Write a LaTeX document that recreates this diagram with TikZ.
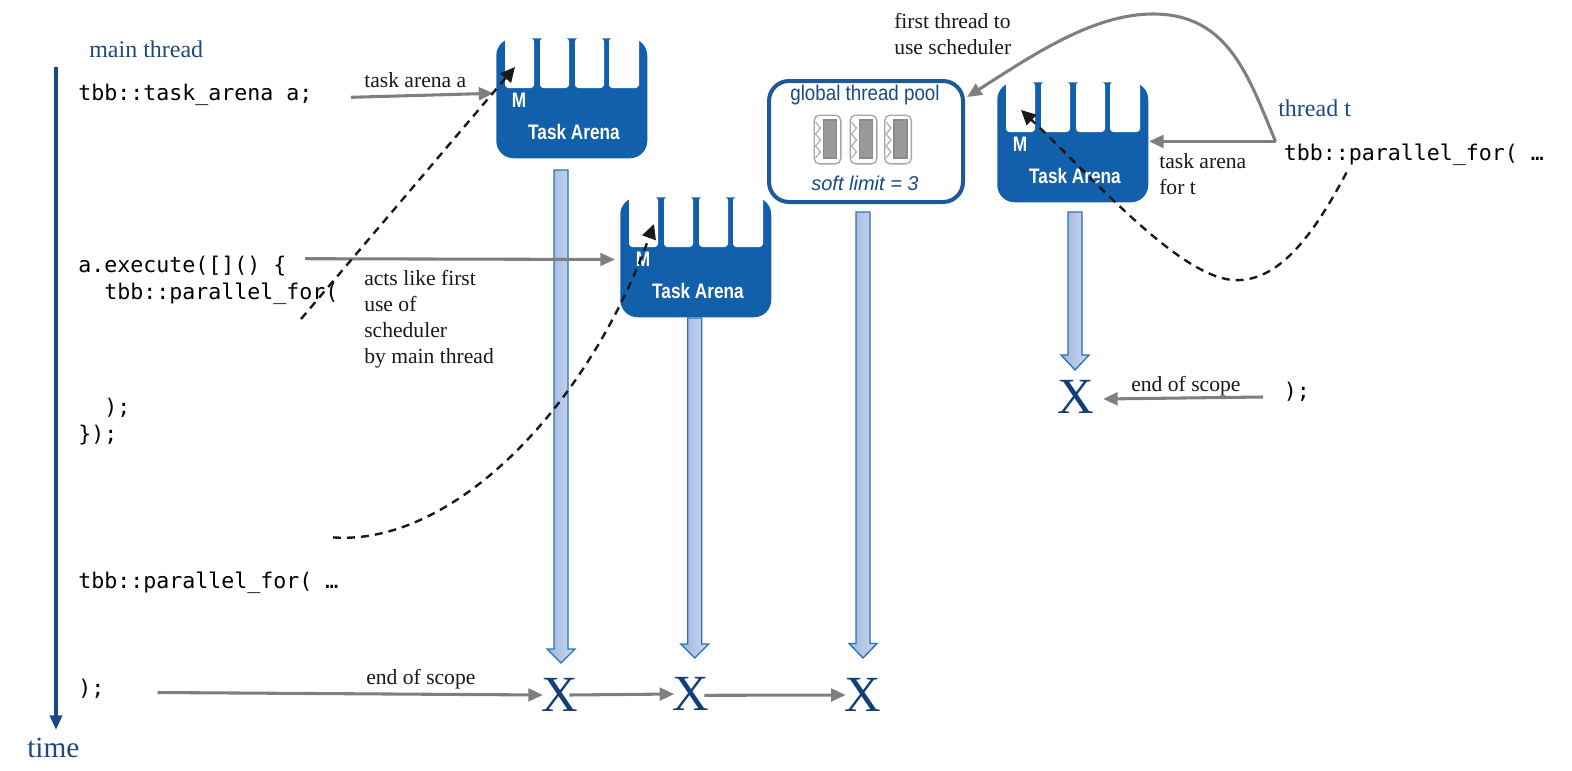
\documentclass[tikz,border=0pt]{standalone}
\usepackage{fontspec}
\usetikzlibrary{arrows.meta}
\setmainfont{Liberation Serif}
\newfontfamily\codefont{DejaVu Sans Mono}
\newfontfamily\arenafont[FakeStretch=0.82]{Liberation Sans}
\newfontfamily\poolfont[FakeStretch=0.88]{Liberation Sans}
\newfontfamily\softfont{Liberation Sans}
\definecolor{arenablue}{HTML}{1260AB}
\definecolor{poolblue}{HTML}{1D5A9C}
\definecolor{navy}{HTML}{1C4A80}
\definecolor{xblue}{HTML}{133F78}
\definecolor{arrowgray}{HTML}{7F7F7F}
\definecolor{iconline}{HTML}{A6A6A6}
\definecolor{icongray}{HTML}{999999}
\definecolor{blockline}{HTML}{2A70B8}
\definecolor{blockdark}{HTML}{9DB5DE}
\definecolor{blocklight}{HTML}{CDDAEF}
\tikzset{
  code/.style={font=\codefont\fontsize{16.2}{18}\selectfont,anchor=base west,inner sep=0pt},
  label/.style={font=\fontsize{16.2}{18}\selectfont,anchor=base west,inner sep=0pt,text=black!90},
  endx/.style={font=\fontsize{38}{40}\selectfont,text=xblue,inner sep=0pt},
  grayarrow/.style={draw=arrowgray,line width=2.3pt,-{Triangle[length=11pt,width=9.5pt]}},
  dasharrow/.style={draw=black!90,line width=1.8pt,dash pattern=on 6pt off 4.5pt,-{Triangle[length=11pt,width=10.5pt]}},
  arenabox/.style={fill=arenablue,rounded corners=13pt,minimum width=113.25pt,minimum height=90pt,anchor=north west,inner sep=0pt},
  arenaM/.style={font=\arenafont\bfseries\fontsize{15.75}{18}\selectfont,text=white,inner sep=0pt},
  threadicon/.style={draw=iconline,line width=1pt,fill=white,rounded corners=4pt,minimum width=20pt,minimum height=36.5pt,inner sep=0pt},
  block/.style={draw=blockline,line width=1pt,left color=blockdark,right color=blocklight},
}
\newcommand{\arena}[3]{% name, left, top
  \node[arenabox] (#1) at (#2,#3) {};
  \begin{scope}[shift={(#2,#3)}]
    \foreach \sx/\ex in {9/38,44/73,79/108,113/143}{
      \fill[white,rounded corners=2.5pt] (\sx,0) rectangle (\ex,50);
    }
    \node[arenaM] (#1M) at (23,62) {M};
    \node[arenaM] (#1T) at (78,94) {Task Arena};
  \end{scope}
}
\newcommand{\blockarrow}[5]{% center x, half shaft, top, head start, tip
  \path[block] (#1-#2,#3) -- (#1+#2,#3) -- (#1+#2,#4) -- (#1+#2+7,#4) -- (#1,#5) -- (#1-#2-7,#4) -- (#1-#2,#4) -- cycle;
}
\newcommand{\threadicon}[2]{% name, center x
  \node[threadicon] (#1) at (#2,139.5) {};
  \draw[icongray!90!black,line width=.9pt,fill=icongray] (#2-4,120) rectangle (#2+9,158);
  \draw[iconline,line width=.8pt] (#2-12,122) -- (#2-7,128) -- (#2-12,134) -- (#2-7,140) -- (#2-12,146) -- (#2-7,152) -- (#2-12,158);
}
\begin{document}
\begin{tikzpicture}[x=0.75pt,y=-0.75pt]
\useasboundingbox (0,0) rectangle (1572,771);

% time line
\coordinate (timeTop) at (56,67);
\coordinate (timeEnd) at (56,730);
\draw[navy,line width=3pt,-{Triangle[length=11pt,width=9pt]}] (timeTop) -- (timeEnd);
\node[font=\fontsize{22}{24}\selectfont,text=navy,inner sep=0pt,anchor=base west] (timeL) at (27,757) {time};
\node[label,text=navy,font=\fontsize{18}{20}\selectfont] (mainL) at (89,57) {main thread};

% arenas
\arena{arenaA}{496}{38}
\arena{arenaB}{620}{197}
\arena{arenaC}{997}{82}

% pool
\node[draw=poolblue,line width=3pt,fill=white,rounded corners=15pt,minimum width=145.5pt,minimum height=90.75pt,inner sep=0pt] (pool) at (866,141.5) {};
\node[font=\poolfont\fontsize{16}{18}\selectfont,text=navy,inner sep=0pt] (poolT) at (865,95) {global thread pool};
\node[font=\softfont\itshape\fontsize{15}{18}\selectfont,text=navy,inner sep=0pt] (poolS) at (865,183) {soft limit = 3};
\threadicon{iconA}{827.5}
\threadicon{iconB}{863.5}
\threadicon{iconC}{898}

% block arrows
\blockarrow{561}{7}{170}{649}{663}
\blockarrow{694.7}{7}{318}{644}{658}
\blockarrow{863}{7}{212}{643.5}{658}
\blockarrow{1075}{7}{212}{355}{370}

% X marks
\node[endx] (xA) at (559.7,695) {X};
\node[endx] (xB) at (691,694) {X};
\node[endx] (xC) at (863,695) {X};
\node[endx] (xD) at (1076,397) {X};

% code
\node[code] (c1) at (78,100.5) {tbb::task\_arena a;};
\node[code] (c2) at (78,272) {a.execute([]() \{};
\node[code] (c3) at (104,299) {tbb::parallel\_for(};
\node[code] (c4) at (104,414) {);};
\node[code] (c5) at (78,441) {\});};
\node[code] (c6) at (78,588) {tbb::parallel\_for( …};
\node[code] (c7) at (78,695) {);};
\node[code] (c8) at (1283.5,160) {tbb::parallel\_for( …};
\node[code] (c9) at (1283.5,398) {);};

% labels
\node[label] (l1) at (364,87) {task arena a};
\node[label,align=left,anchor=north west] (l2) at (364,270) {acts like first\\[1.5pt]use of\\[1.5pt]scheduler\\[1.5pt]by main thread};
\node[label] (l3) at (366,684) {end of scope};
\node[label] (l4) at (1131,391) {end of scope};
\node[label,align=left,anchor=north west] (l5) at (894,13) {first thread to\\[1.5pt]use scheduler};
\node[label,font=\fontsize{18}{20}\selectfont,text=navy] (l6) at (1278,116) {thread t};
\node[label,align=left,anchor=north west] (l7) at (1159,153) {task arena\\[2pt]for t};

% connector ends
\coordinate (a1s) at (351,97.3);
\coordinate (a1e) at (493.5,93.3);
\coordinate (a2s) at (305,258.7);
\coordinate (a2e) at (615,259.5);
\coordinate (a3s) at (157.5,692.5);
\coordinate (a3e) at (543,695);
\coordinate (a4s) at (569.3,695);
\coordinate (a4e) at (674.3,694);
\coordinate (a5s) at (704.3,695.3);
\coordinate (a5e) at (845.7,695);
\coordinate (a6s) at (1263,397);
\coordinate (a6e) at (1103,399);
\coordinate (a7s) at (1275.5,141.4);
\coordinate (a7e) at (1149,141.4);
\coordinate (a8e) at (967,97);
\coordinate (d1s) at (301,319);
\coordinate (d1e) at (515,67);
\coordinate (d2s) at (333,537.4);
\coordinate (d2e) at (654,224);
\coordinate (d3s) at (1346.5,172.5);
\coordinate (d3e) at (1021,110);

% gray connectors
\draw[grayarrow] (a1s) -- (a1e);
\draw[grayarrow] (a2s) -- (a2e);
\draw[grayarrow] (a3s) -- (a3e);
\draw[grayarrow] (a4s) -- (a4e);
\draw[grayarrow] (a5s) -- (a5e);
\draw[grayarrow] (a6s) -- (a6e);
\draw[grayarrow] (a7s) -- (a7e);
\draw[grayarrow] (a7s) .. controls (1248,75) and (1228,14) .. (1153,14) .. controls (1093,14) and (1033,55) .. (a8e);

% dashed connectors
\draw[dasharrow] (d1s) -- (d1e);
\draw[dasharrow] (d2s) .. controls (451,546) and (586,411) .. (d2e);
\draw[dasharrow] (d3s) .. controls (1313,236) and (1278,283) .. (1233,280) .. controls (1178,276) and (1090,175) .. (d3e);
\end{tikzpicture}
\end{document}
